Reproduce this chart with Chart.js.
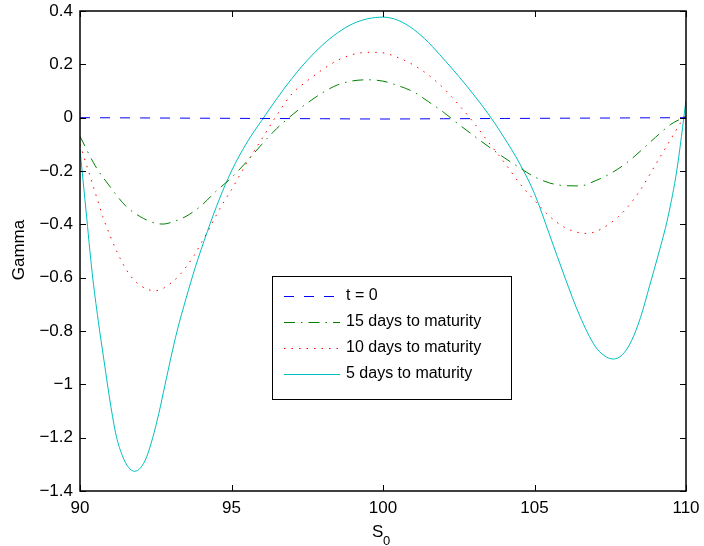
<!DOCTYPE html>
<html>
<head>
<meta charset="utf-8">
<script src="https://cdn.jsdelivr.net/npm/chart.js@4.4.1/dist/chart.umd.min.js"></script>
<style>
  html, body { margin: 0; padding: 0; background: #fff; }
  #wrap { width: 704px; height: 546px; position: relative; }
</style>
</head>
<body>
<div id="wrap"><canvas id="chart"></canvas></div>
<script>
// ── DATA ──
const xTicks = [90, 95, 100, 105, 110];
const yTicks = [0.4, 0.2, 0, -0.2, -0.4, -0.6, -0.8, -1, -1.2, -1.4];

const sT0  = [90, 92, 94, 96, 98, 100, 102, 104, 106, 108, 110];
const gT0  = [0, -0.001, -0.002, -0.003, -0.004, -0.005, -0.004, -0.003, -0.002, -0.001, 0];

const s15 = [90, 90.5, 91, 91.5, 92, 92.5, 92.75, 93, 93.5, 94, 94.5, 95, 95.5, 96, 96.5, 97, 97.5, 98, 98.5, 99, 99.5, 100,
             100.5, 101, 101.5, 102, 102.5, 103, 103.5, 104, 104.5, 105, 105.5, 106, 106.5, 107, 107.5, 108, 108.5, 109, 109.5, 110];
const g15 = [-0.07, -0.18, -0.26, -0.33, -0.372, -0.396, -0.399, -0.393, -0.37, -0.33, -0.275, -0.225, -0.165, -0.10, -0.04, 0.01, 0.055, 0.093, 0.123, 0.138, 0.142, 0.137,
             0.12, 0.097, 0.06, 0.02, -0.025, -0.068, -0.11, -0.15, -0.187, -0.222, -0.245, -0.255, -0.256, -0.237, -0.21, -0.173, -0.125, -0.073, -0.025, 0.005];

const s10 = [90, 90.25, 90.5, 90.75, 91, 91.25, 91.5, 91.75, 92, 92.25, 92.5, 92.75, 93, 93.25, 93.5, 93.75, 94, 94.25, 94.5, 94.75, 95, 95.5, 96, 96.5, 97, 97.5, 98, 98.5, 99, 99.5,
             100, 100.5, 101, 101.5, 102, 102.5, 103, 103.5, 104, 104.5, 105, 105.5, 106, 106.5, 106.75, 107, 107.5, 108, 108.5, 109, 109.5, 110];
const g10 = [-0.10, -0.19, -0.28, -0.37, -0.445, -0.51, -0.565, -0.605, -0.63, -0.645, -0.649, -0.64, -0.62, -0.595, -0.56, -0.52, -0.47, -0.42, -0.365, -0.315, -0.27, -0.17, -0.08, 0.01, 0.09, 0.138, 0.18, 0.215, 0.237, 0.245,
             0.243, 0.225, 0.198, 0.16, 0.11, 0.048, -0.02, -0.095, -0.167, -0.245, -0.31, -0.37, -0.412, -0.432, -0.434, -0.428, -0.396, -0.345, -0.27, -0.175, -0.08, 0.015];

const s5 = [90, 90.2, 90.4, 90.6, 90.8, 91, 91.2, 91.4, 91.6, 91.8, 92, 92.2, 92.4, 92.6, 92.8, 93, 93.2, 93.5, 93.8, 94.2, 94.6, 95, 95.5, 96, 96.5, 97, 97.5, 98, 98.5, 99, 99.5,
            100, 100.5, 101, 101.5, 102, 102.5, 103, 103.5, 104, 104.5, 105, 105.5, 106, 106.5, 107, 107.3, 107.6, 107.9, 108.2, 108.5, 108.8, 109.1, 109.4, 109.7, 110];
const g5 = [-0.12, -0.35, -0.58, -0.76, -0.917, -1.07, -1.195, -1.268, -1.311, -1.326, -1.313, -1.272, -1.20, -1.11, -1.005, -0.90, -0.802, -0.678, -0.563, -0.428, -0.305, -0.20, -0.095, -0.01, 0.072, 0.148, 0.215, 0.272, 0.318, 0.352, 0.371,
            0.377, 0.365, 0.332, 0.282, 0.22, 0.155, 0.085, 0.01, -0.075, -0.17, -0.285, -0.44, -0.598, -0.745, -0.857, -0.892, -0.905, -0.889, -0.837, -0.749, -0.63, -0.508, -0.375, -0.195, 0.065];

const labels = ['t = 0', '15 days to maturity', '10 days to maturity', '5 days to maturity'];
const colors = ['#0000ff', '#008000', '#ff0000', '#00bfbf'];
const dashes = [[10, 10], [11, 6, 1.5, 6], [1.5, 6], []];

const FONT = 'Arial, "Liberation Sans", Helvetica, sans-serif';
const pts = (xs, ys) => xs.map((x, i) => ({ x, y: ys[i] }));
const fmt = v => String(+(+v).toFixed(1)).replace('-', '\u2212');

// ── frame, inward ticks, axis titles and legend box ──
const matlabDecor = {
    id: 'matlabDecor',
    afterDraw(chart) {
        const { ctx, chartArea: a, scales: { x, y } } = chart;
        ctx.save();
        ctx.strokeStyle = '#000';
        ctx.lineWidth = 1;
        ctx.beginPath();
        xTicks.forEach(v => {
            const px = Math.round(x.getPixelForValue(v)) + 0.5;
            ctx.moveTo(px, a.bottom); ctx.lineTo(px, a.bottom - 6);
            ctx.moveTo(px, a.top);    ctx.lineTo(px, a.top + 6);
        });
        yTicks.forEach(v => {
            const py = Math.round(y.getPixelForValue(v)) + 0.5;
            ctx.moveTo(a.left, py);  ctx.lineTo(a.left + 6, py);
            ctx.moveTo(a.right, py); ctx.lineTo(a.right - 6, py);
        });
        ctx.stroke();
        ctx.lineWidth = 1.5;
        ctx.strokeRect(a.left, a.top, a.right - a.left, a.bottom - a.top);

        // axis titles
        ctx.fillStyle = '#000';
        ctx.font = '17px ' + FONT;
        ctx.textAlign = 'center';
        ctx.textBaseline = 'middle';
        ctx.save();
        ctx.translate(19, 250);
        ctx.rotate(-Math.PI / 2);
        ctx.fillText('Gamma', 0, 0);
        ctx.restore();
        ctx.textAlign = 'left';
        ctx.textBaseline = 'alphabetic';
        ctx.fillText('S', 372, 537);
        ctx.font = '13px ' + FONT;
        ctx.fillText('0', 383, 545);

        // legend
        const L = 272, T = 276, W = 239, H = 123;
        ctx.fillStyle = '#fff';
        ctx.fillRect(L, T, W, H);
        ctx.lineWidth = 1;
        ctx.strokeStyle = '#000';
        ctx.strokeRect(L + 0.5, T + 0.5, W, H);
        ctx.font = '16px ' + FONT;
        ctx.textBaseline = 'middle';
        chart.data.datasets.forEach((ds, i) => {
            const ry = T + 20 + i * 26;
            ctx.strokeStyle = ds.borderColor;
            ctx.lineWidth = 1;
            ctx.setLineDash(ds.borderDash);
            ctx.beginPath();
            ctx.moveTo(L + 12, ry + 0.5); ctx.lineTo(L + 68, ry + 0.5);
            ctx.stroke();
            ctx.setLineDash([]);
            ctx.fillStyle = '#000';
            ctx.fillText(ds.label, L + 74, ry);
        });
        ctx.restore();
    }
};

const datasets = [pts(sT0, gT0), pts(s15, g15), pts(s10, g10), pts(s5, g5)].map((data, i) => ({
    label: labels[i],
    data,
    borderColor: colors[i],
    borderWidth: 1,
    borderDash: dashes[i],
    pointRadius: 0,
    cubicInterpolationMode: 'monotone',
    fill: false
}));

new Chart(document.getElementById('chart'), {
    type: 'line',
    data: { datasets },
    options: {
        responsive: true, maintainAspectRatio: false, animation: false,
        layout: { padding: { top: 11, right: 18, left: 0, bottom: 0 } },
        plugins: { legend: { display: false }, tooltip: { enabled: false } },
        scales: {
            x: {
                type: 'linear', min: 90, max: 110,
                afterBuildTicks: s => { s.ticks = xTicks.map(value => ({ value })); },
                afterFit: s => { s.height = 55; s.paddingLeft = 0; s.paddingRight = 0; },
                grid: { display: false, drawTicks: false }, border: { display: false },
                ticks: { color: '#000', font: { family: FONT, size: 17 }, padding: 7, maxRotation: 0, callback: fmt }
            },
            y: {
                type: 'linear', min: -1.4, max: 0.4,
                afterBuildTicks: s => { s.ticks = yTicks.map(value => ({ value })); },
                afterFit: s => { s.width = 80; s.paddingTop = 0; s.paddingBottom = 0; },
                grid: { display: false, drawTicks: false }, border: { display: false },
                ticks: { color: '#000', font: { family: FONT, size: 17 }, padding: 7, callback: fmt }
            }
        }
    },
    plugins: [matlabDecor]
});
</script>
</body>
</html>
